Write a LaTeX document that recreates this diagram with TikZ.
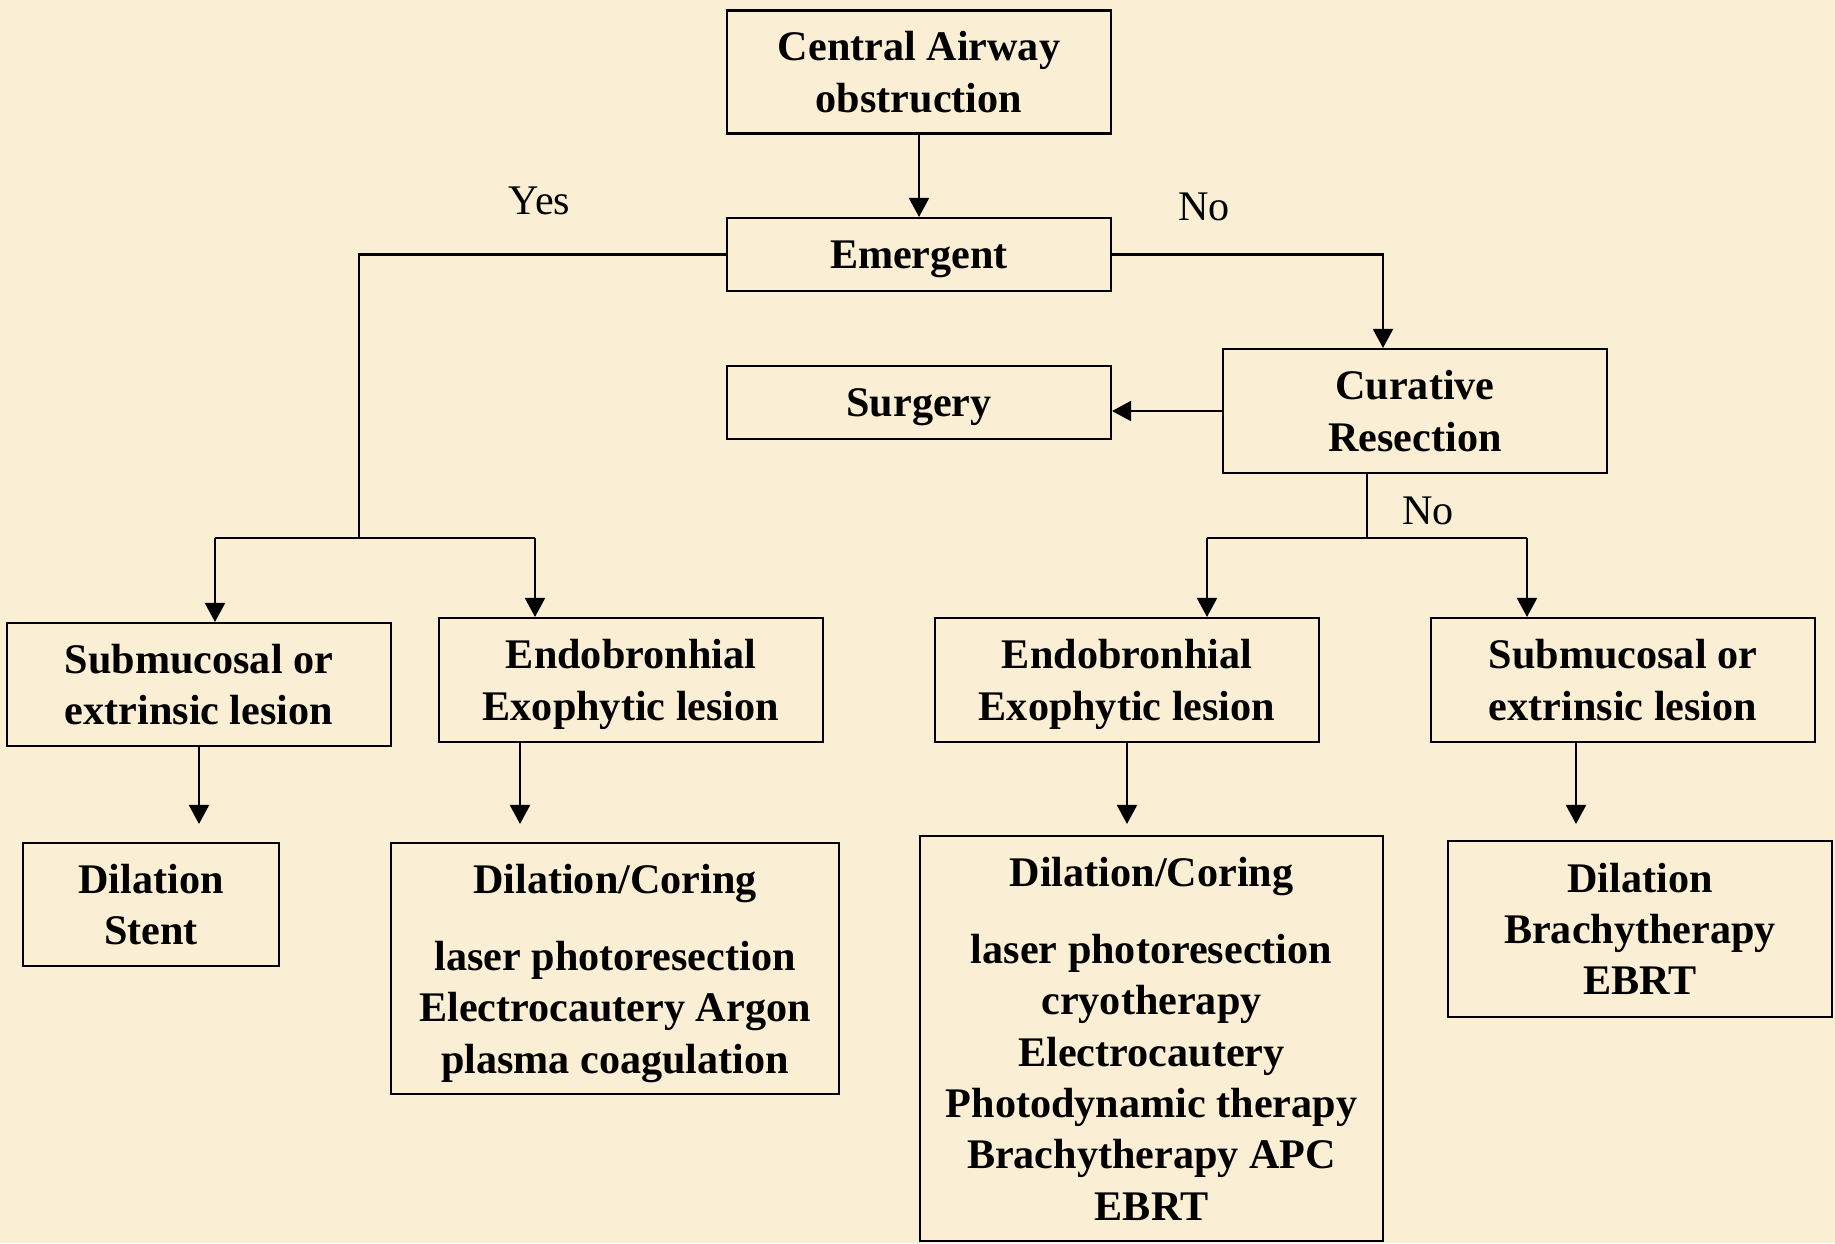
\documentclass[tikz,border=0pt]{standalone}
\usepackage{fontspec}
\setmainfont{Liberation Serif}
\usetikzlibrary{arrows.meta}
\definecolor{parchment}{RGB}{250,239,213}
\tikzset{
  box/.style={draw=black,line width=0.6pt,align=center,inner sep=0pt,text depth=0pt,
    font=\fontsize{12}{14.6}\selectfont\bfseries},
  lbl/.style={font=\fontsize{12}{14.6}\selectfont},
  conn/.style={draw=black,line width=0.6pt},
  arr/.style={conn,-{Triangle[width=0.2cm,length=0.19cm]}},
}
\begin{document}
\begin{tikzpicture}
  \fill[parchment] (0,0) rectangle (18.35,-12.43);
  \useasboundingbox (0,0) rectangle (18.35,-12.43);
  \begin{scope}[every node/.style={box}]
  \node[minimum width=3.84cm,minimum height=1.23cm] (cao) at (9.19,-0.72) {Central Airway\\obstruction};
  \node[minimum width=3.84cm,minimum height=0.73cm] (emerg) at (9.19,-2.545) {Emergent};
  \node[minimum width=3.84cm,minimum height=1.24cm] (cure) at (14.15,-4.11) {Curative\\Resection};
  \node[minimum width=3.84cm,minimum height=0.73cm] (surg) at (9.19,-4.025) {Surgery};
  \node[minimum width=3.84cm,minimum height=1.23cm] (sub1) at (1.99,-6.845) {Submucosal or\\extrinsic lesion};
  \node[minimum width=3.84cm,minimum height=1.24cm] (endo1) at (6.31,-6.80) {Endobronhial\\Exophytic lesion};
  \node[minimum width=3.84cm,minimum height=1.24cm] (endo2) at (11.27,-6.80) {Endobronhial\\Exophytic lesion};
  \node[minimum width=3.84cm,minimum height=1.24cm] (sub2) at (16.23,-6.80) {Submucosal or\\extrinsic lesion};
  \node[minimum width=2.56cm,minimum height=1.23cm] (dil1) at (1.51,-9.045) {Dilation\\Stent};
  \node[minimum width=4.48cm,minimum height=2.51cm] (dil2) at (6.15,-9.685) {Dilation/Coring\\[0.26cm]laser photoresection\\Electrocautery Argon\\plasma coagulation};
  \node[minimum width=4.63cm,minimum height=4.05cm] (dil3) at (11.515,-10.385) {Dilation/Coring\\[0.26cm]laser photoresection\\cryotherapy\\Electrocautery\\Photodynamic therapy\\Brachytherapy APC\\EBRT};
  \node[minimum width=3.84cm,minimum height=1.76cm] (dil4) at (16.40,-9.29) {Dilation\\Brachytherapy\\EBRT};
  \end{scope}
  \node[lbl] (yes) at (5.395,-2.01) {Yes};
  \node[lbl] (no1) at (12.04,-2.07) {No};
  \node[lbl] (no2) at (14.28,-5.11) {No};
  % branch points
  \coordinate (ybend) at (3.59,-5.38);
  \coordinate (yl) at (2.15,-5.38);
  \coordinate (yr) at (5.35,-5.38);
  \coordinate (nx) at (13.83,-2.49);
  \coordinate (cdown) at (13.67,-5.38);
  \coordinate (nl) at (12.07,-5.38);
  \coordinate (nr) at (15.27,-5.38);
  % connectors
  \draw[arr] (cao) -- (emerg);
  \draw[conn] (emerg.west) -| (ybend);
  \draw[conn] (yl) -- (yr);
  \draw[arr] (yl) -- (yl |- sub1.north);
  \draw[arr] (yr) -- (yr |- endo1.north);
  \draw[arr] (emerg.east) -| (nx |- cure.north);
  \draw[arr] (cure.west) -- (cure.west -| surg.east);
  \draw[conn] (cdown |- cure.south) -- (cdown);
  \draw[conn] (nl) -- (nr);
  \draw[arr] (nl) -- (nl |- endo2.north);
  \draw[arr] (nr) -- (nr |- sub2.north);
  \draw[arr,shorten >=0.18cm] (sub1.south) -- (sub1.south |- dil1.north);
  \draw[arr,shorten >=0.18cm] ([xshift=-1.11cm]endo1.south) -- ([xshift=-1.11cm]endo1.south |- dil2.north);
  \draw[arr,shorten >=0.11cm] (endo2.south) -- (endo2.south |- dil3.north);
  \draw[arr,shorten >=0.16cm] ([xshift=-0.47cm]sub2.south) -- ([xshift=-0.47cm]sub2.south |- dil4.north);
\end{tikzpicture}
\end{document}
